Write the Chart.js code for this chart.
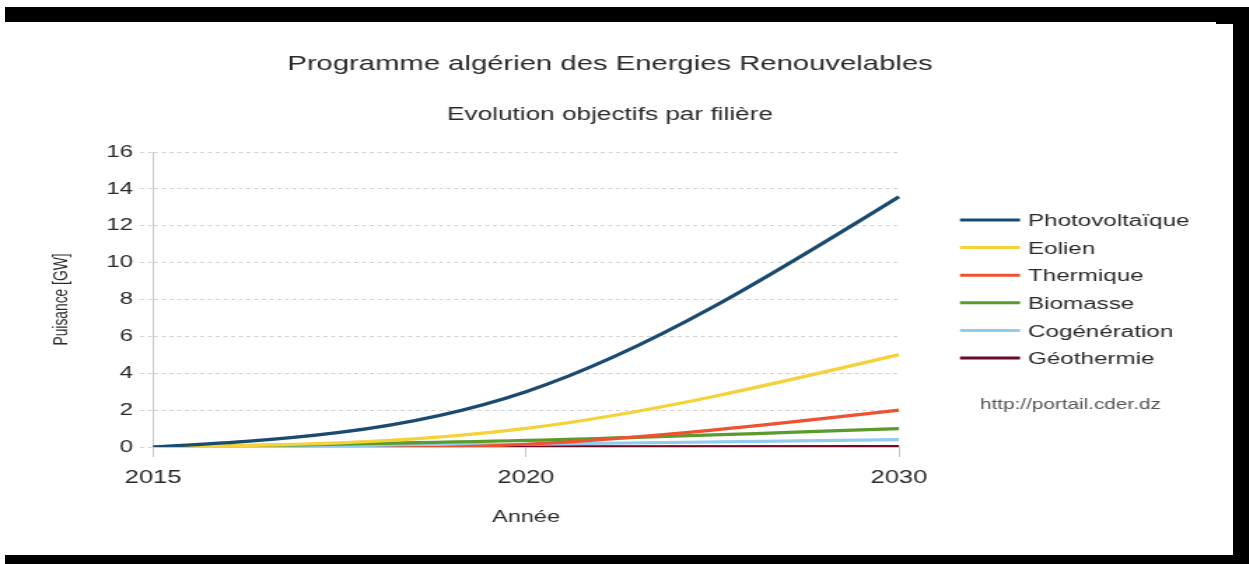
<!DOCTYPE html>
<html>
<head>
<meta charset="utf-8">
<title>Programme algérien des Energies Renouvelables</title>
<script src="https://cdn.jsdelivr.net/npm/chart.js@4.4.1/dist/chart.umd.min.js"></script>
<style>
  html, body { margin: 0; padding: 0; background: #fff; width: 1249px; height: 564px; overflow: hidden; }
  /* the chart is drawn on a narrower canvas and widened horizontally */
  #wrap { position: absolute; left: 0; top: 0; width: 892px; height: 564px; transform: scaleX(1.4); transform-origin: 0 0; }
  .frame { position: absolute; background: #000; }
</style>
</head>
<body>
<div id="wrap"><canvas id="chart" width="892" height="564"></canvas></div>
<div class="frame" style="left:5px;top:7px;width:1244px;height:15px"></div>
<div class="frame" style="left:1233px;top:7px;width:16px;height:557px"></div>
<div class="frame" style="left:1216px;top:22px;width:17px;height:2px"></div>
<div class="frame" style="left:5px;top:555px;width:1244px;height:9px"></div>
<script>
// Years of the programme milestones
const years = ['2015', '2020', '2030'];

// Installed capacity targets per technology, in GW
const photovoltaique = [0, 3.0, 13.575];
const eolien         = [0, 1.01, 5.01];
const thermique      = [0, 0.15, 2.0];
const biomasse       = [0, 0.36, 1.0];
const cogeneration   = [0, 0.15, 0.4];
const geothermie     = [0, 0.005, 0.015];

const seriesNames  = ['Photovoltaïque', 'Eolien', 'Thermique', 'Biomasse', 'Cogénération', 'Géothermie'];
const seriesValues = [photovoltaique, eolien, thermique, biomasse, cogeneration, geothermie];
const seriesColors = ['#1b4a70', '#f4d23a', '#ee5230', '#5a9b2c', '#91cbee', '#6b0b27'];

// Y axis ticks (GW)
const yMin = 0, yMax = 16, yStep = 2;

const FONT = '"Liberation Sans", Arial, sans-serif';
const TEXT = '#2a2a2a';

// Solve a natural cubic spline (uniform parameter) for the tangents of one coordinate
function naturalTangents(v) {
  const n = v.length;
  if (n < 2) return [0];
  const a = new Array(n), b = new Array(n), c = new Array(n), r = new Array(n);
  for (let i = 0; i < n; i++) {
    if (i === 0) { a[i] = 0; b[i] = 2; c[i] = 1; r[i] = 3 * (v[1] - v[0]); }
    else if (i === n - 1) { a[i] = 1; b[i] = 2; c[i] = 0; r[i] = 3 * (v[n - 1] - v[n - 2]); }
    else { a[i] = 1; b[i] = 4; c[i] = 1; r[i] = 3 * (v[i + 1] - v[i - 1]); }
  }
  for (let i = 1; i < n; i++) {
    const m = a[i] / b[i - 1];
    b[i] -= m * c[i - 1];
    r[i] -= m * r[i - 1];
  }
  const d = new Array(n);
  d[n - 1] = r[n - 1] / b[n - 1];
  for (let i = n - 2; i >= 0; i--) d[i] = (r[i] - c[i] * d[i + 1]) / b[i];
  return d;
}

// Smooth each line as a natural cubic spline through its points
const naturalSpline = {
  id: 'naturalSpline',
  beforeDatasetsDraw(chart) {
    chart.data.datasets.forEach((ds, i) => {
      const meta = chart.getDatasetMeta(i);
      const pts = meta.data;
      if (!pts || pts.length < 2) return;
      if (meta.dataset && meta.dataset.updateControlPoints) meta.dataset.updateControlPoints(chart.chartArea, 'x');
      const dx = naturalTangents(pts.map(p => p.x));
      const dy = naturalTangents(pts.map(p => p.y));
      pts.forEach((p, k) => {
        p.cp1x = p.x - dx[k] / 3; p.cp1y = p.y - dy[k] / 3;
        p.cp2x = p.x + dx[k] / 3; p.cp2y = p.y + dy[k] / 3;
      });
      if (meta.dataset) meta.dataset._path = undefined;
    });
  }
};

// Title, subtitle, legend and source drawn around the plot
const decorations = {
  id: 'decorations',
  afterDraw(chart) {
    const ctx = chart.ctx;
    ctx.save();
    ctx.fillStyle = TEXT;
    ctx.textAlign = 'center';
    ctx.textBaseline = 'alphabetic';
    ctx.font = '20.9px ' + FONT;
    ctx.fillText('Programme algérien des Energies Renouvelables', 435.7, 69.5);
    ctx.font = '18.7px ' + FONT;
    ctx.fillText('Evolution objectifs par filière', 435.7, 120);

    // legend
    ctx.textAlign = 'left';
    ctx.font = '17.3px ' + FONT;
    chart.data.datasets.forEach((ds, i) => {
      const rowY = 220 + i * 27.6;
      ctx.strokeStyle = ds.borderColor;
      ctx.lineWidth = 3;
      ctx.beginPath();
      ctx.moveTo(685.7, rowY);
      ctx.lineTo(728.6, rowY);
      ctx.stroke();
      ctx.fillStyle = TEXT;
      ctx.fillText(ds.label, 734.3, rowY + 6.2);
    });

    ctx.fillStyle = '#555';
    ctx.font = '14.8px ' + FONT;
    ctx.fillText('http://portail.cder.dz', 700, 409);
    ctx.restore();
  }
};

new Chart(document.getElementById('chart'), {
  type: 'line',
  data: {
    labels: years,
    datasets: seriesNames.map((name, i) => ({
      label: name,
      data: seriesValues[i],
      borderColor: seriesColors[i],
      backgroundColor: seriesColors[i],
      borderWidth: 3.2,
      pointRadius: 0,
      tension: 0.4,
      fill: false
    }))
  },
  options: {
    responsive: false,
    animation: false,
    devicePixelRatio: 1,
    layout: { padding: { left: 0, right: 249.9, top: 152, bottom: 0 } },
    plugins: {
      legend: { display: false },
      title: { display: false },
      tooltip: { enabled: false }
    },
    scales: {
      x: {
        type: 'category',
        ticks: { color: TEXT, font: { family: FONT, size: 18.3 }, padding: 10, maxRotation: 0, autoSkip: false },
        grid: { drawOnChartArea: false, drawTicks: true, tickLength: 10, color: '#c6c6c6', tickColor: '#c6c6c6' },
        border: { display: true, color: '#c6c6c6', width: 1 },
        title: { display: true, text: 'Année', color: TEXT, font: { family: FONT, size: 16.8 }, padding: { top: 0, bottom: 37 } },
        afterFit: (s) => { s.height = 117; }
      },
      y: {
        min: yMin,
        max: yMax,
        ticks: { stepSize: yStep, color: TEXT, font: { family: FONT, size: 17.1 }, padding: 5 },
        grid: { color: '#d2d2d2', lineWidth: 1, drawTicks: true, tickLength: 9.3, tickColor: '#d2d2d2', tickBorderDash: [3, 2.5] },
        border: { display: true, color: '#c6c6c6', width: 1, dash: [3, 2.5] },
        title: { display: true, text: 'Puisance [GW]', color: TEXT, font: { family: FONT, size: 13.8 }, padding: { top: 36, bottom: 0 } },
        afterFit: (s) => { s.width = 109.3; }
      }
    }
  },
  plugins: [naturalSpline, decorations]
});
</script>
</body>
</html>
